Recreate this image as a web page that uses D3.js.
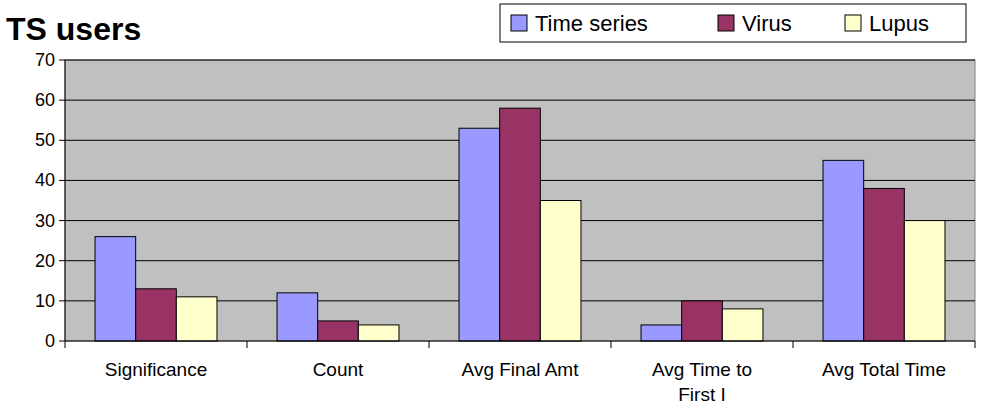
<!DOCTYPE html>
<html><head><meta charset="utf-8">
<script src="https://cdn.jsdelivr.net/npm/d3@7"></script>
<style>body{margin:0;background:#fff;font-family:"Liberation Sans",Arial,sans-serif}</style>
</head><body><svg id="c" width="981" height="415"></svg>
<script>
const categories = [['Significance'], ['Count'], ['Avg Final Amt'], ['Avg Time to', 'First I'], ['Avg Total Time']];
const seriesNames = ['Time series', 'Virus', 'Lupus'];
const seriesColors = ['#9999FF', '#993366', '#FFFFCC'];
const timeSeries = [26, 12, 53, 4, 45];
const virus = [13, 5, 58, 10, 38];
const lupus = [11, 4, 35, 8, 30];
const yTicks = [0, 10, 20, 30, 40, 50, 60, 70];

const values = [timeSeries, virus, lupus];
const svg = d3.select('#c');
const pLeft = 65, pRight = 975, pTop = 60, pBottom = 341;

const x = d3.scaleBand().domain(d3.range(categories.length)).range([pLeft, pRight]);
const xs = d3.scaleBand().domain(d3.range(3)).range([x.bandwidth() * 0.165, x.bandwidth() * 0.835]);
const y = d3.scaleLinear().domain([0, 70]).range([pBottom, pTop]);

svg.append('rect').attr('x', pLeft).attr('y', pTop).attr('width', pRight - pLeft).attr('height', pBottom - pTop)
    .attr('fill', '#C0C0C0').attr('stroke', '#808080');

svg.selectAll('.grid').data(yTicks.slice(1)).enter().append('line')
    .attr('x1', pLeft).attr('x2', pRight).attr('y1', y).attr('y2', y).attr('stroke', '#000');

values.forEach(function (vals, s) {
    svg.selectAll('.bar' + s).data(vals).enter().append('rect')
        .attr('x', function (d, i) { return x(i) + xs(s); })
        .attr('y', function (d) { return y(d); })
        .attr('width', xs.bandwidth())
        .attr('height', function (d) { return pBottom - y(d); })
        .attr('fill', seriesColors[s]).attr('stroke', '#000');
});

// axes
svg.append('line').attr('x1', pLeft).attr('x2', pLeft).attr('y1', pTop).attr('y2', pBottom).attr('stroke', '#000');
svg.append('line').attr('x1', pLeft).attr('x2', pRight).attr('y1', pBottom).attr('y2', pBottom).attr('stroke', '#000');
yTicks.forEach(function (t) {
    svg.append('line').attr('x1', pLeft - 6).attr('x2', pLeft).attr('y1', y(t)).attr('y2', y(t)).attr('stroke', '#000');
    svg.append('text').attr('x', pLeft - 10).attr('y', y(t) + 6).attr('text-anchor', 'end')
        .attr('font-size', 18).text(t);
});
d3.range(categories.length + 1).forEach(function (i) {
    const xx = i < categories.length ? x(i) : pRight;
    svg.append('line').attr('x1', xx).attr('x2', xx).attr('y1', pBottom).attr('y2', pBottom + 7).attr('stroke', '#000');
});
categories.forEach(function (lines, i) {
    const t = svg.append('text').attr('text-anchor', 'middle').attr('font-size', 19);
    lines.forEach(function (l, k) {
        t.append('tspan').attr('x', x(i) + x.bandwidth() / 2).attr('y', 376 + k * 25).text(l);
    });
});

svg.append('text').attr('x', 6).attr('y', 40).attr('font-size', 32).attr('font-weight', 'bold').text('TS users');

// legend
svg.append('rect').attr('x', 500).attr('y', 4).attr('width', 466).attr('height', 38).attr('fill', '#fff').attr('stroke', '#000');
const lx = [511, 718, 845];
seriesNames.forEach(function (n, s) {
    svg.append('rect').attr('x', lx[s]).attr('y', 15).attr('width', 16).attr('height', 16)
        .attr('fill', seriesColors[s]).attr('stroke', '#000');
    svg.append('text').attr('x', lx[s] + 24).attr('y', 31).attr('font-size', 22).text(n);
});
</script></body></html>
